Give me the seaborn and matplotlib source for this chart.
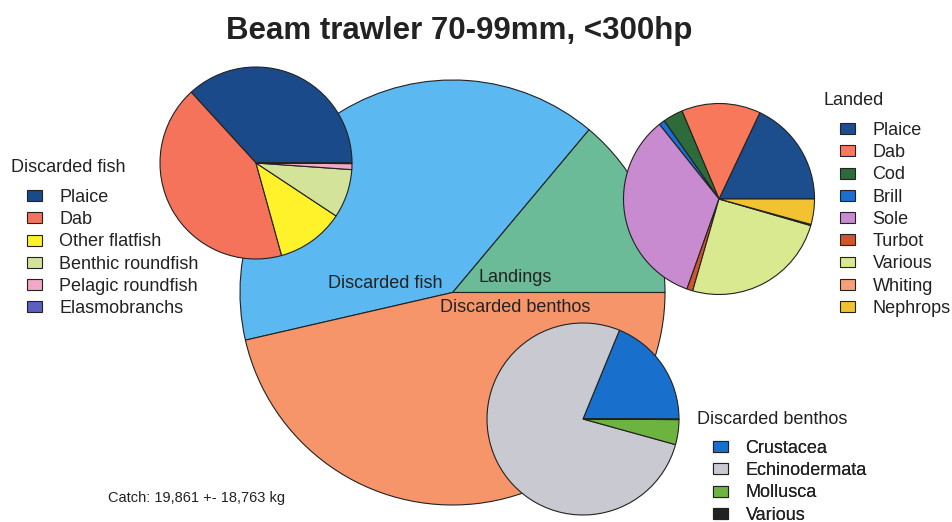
import matplotlib.pyplot as plt
import seaborn as sns
from matplotlib.patches import Patch

sns.set_style('white')
plt.rcParams['font.family'] = ['Liberation Sans', 'DejaVu Sans']

# main catch composition (%)
main_cats = ["Landings", "Discarded fish", "Discarded benthos"]
main_vals = [13.9, 39.7, 46.4]
main_cols = ["#6cbb98", "#5cb8f0", "#f7956a"]

# discarded fish (%)
fish_cats = ["Plaice", "Dab", "Other flatfish", "Benthic roundfish",
             "Pelagic roundfish", "Elasmobranchs"]
fish_vals = [36.8, 42.5, 11.4, 8.2, 1.0, 0.1]
fish_cols = ["#1b4a8a", "#f5735a", "#fff22a", "#d4e39a", "#f2a8c8", "#5a5fc0"]

# landed (%)
land_cats = ["Plaice", "Dab", "Cod", "Brill", "Sole", "Turbot", "Various",
             "Whiting", "Nephrops"]
land_vals = [18.0, 13.4, 3.4, 1.0, 33.9, 1.0, 25.0, 0.2, 4.3]
land_cols = ["#1c4e8e", "#f7785a", "#2e6b3a", "#1a6fd0", "#c88bd0",
             "#d0552e", "#d9e98f", "#f5a07a", "#f2c230"]

# discarded benthos (%)
bent_cats = ["Crustacea", "Echinodermata", "Mollusca", "Various"]
bent_vals = [18.8, 76.9, 4.2, 0.1]
bent_cols = ["#1870cc", "#c9c9d2", "#6db33f", "#222222"]

W, H = 953, 522
fig = plt.figure(figsize=(W / 100, H / 100), dpi=100)
ax = fig.add_axes([0, 0, 1, 1])

wp = dict(edgecolor="#222222", linewidth=0.8)


def draw_pie(vals, cols, cx, cy, r):
    ax.pie(vals, colors=cols, startangle=0, counterclock=True,
           center=(cx, H - cy), radius=r, wedgeprops=wp, frame=True)


draw_pie(main_vals, main_cols, 452.5, 292.5, 212.5)
draw_pie(fish_vals, fish_cols, 256, 163, 96)
draw_pie(land_vals, land_cols, 719, 199, 95.5)
draw_pie(bent_vals, bent_cols, 583, 419, 96)

ax.set_xlim(0, W)
ax.set_ylim(0, H)
ax.set_aspect('equal')
ax.axis('off')

tc = "#222222"
ax.text(385, H - 283, "Discarded fish", ha='center', va='center', fontsize=13, color=tc)
ax.text(515, H - 277, "Landings", ha='center', va='center', fontsize=13, color=tc)
ax.text(515, H - 308, "Discarded benthos", ha='center', va='center', fontsize=13, color=tc)
ax.text(108, H - 498, "Catch: 19,861 +- 18,763 kg", ha='left', va='center', fontsize=10.5, color=tc)

fig.text(459 / W, 1 - 31 / H, "Beam trawler 70-99mm, <300hp", ha='center', va='center',
         fontsize=22.5, fontweight='bold', color=tc)


def add_legend(cats, cols, title, tx, ty, lx, ly):
    ax.text(tx, H - ty, title, ha='left', va='center', fontsize=13, color=tc)
    handles = [Patch(facecolor=c, edgecolor="#222222", linewidth=0.8) for c in cols]
    leg = ax.legend(handles, cats, loc='upper left', bbox_to_anchor=(lx, H - ly),
                    bbox_transform=ax.transData, frameon=False, fontsize=13,
                    borderpad=0, borderaxespad=0, handlelength=0.85, handleheight=0.55,
                    handletextpad=0.95, labelspacing=0.29)
    for t in leg.get_texts():
        t.set_color(tc)
    ax.add_artist(leg)


add_legend(fish_cats, fish_cols, "Discarded fish", 11, 167, 27, 189)
add_legend(land_cats, land_cols, "Landed", 824, 100, 840, 122)
add_legend(bent_cats, bent_cols, "Discarded benthos", 697, 419, 713, 440)

fig.savefig("out.png", dpi=100)
